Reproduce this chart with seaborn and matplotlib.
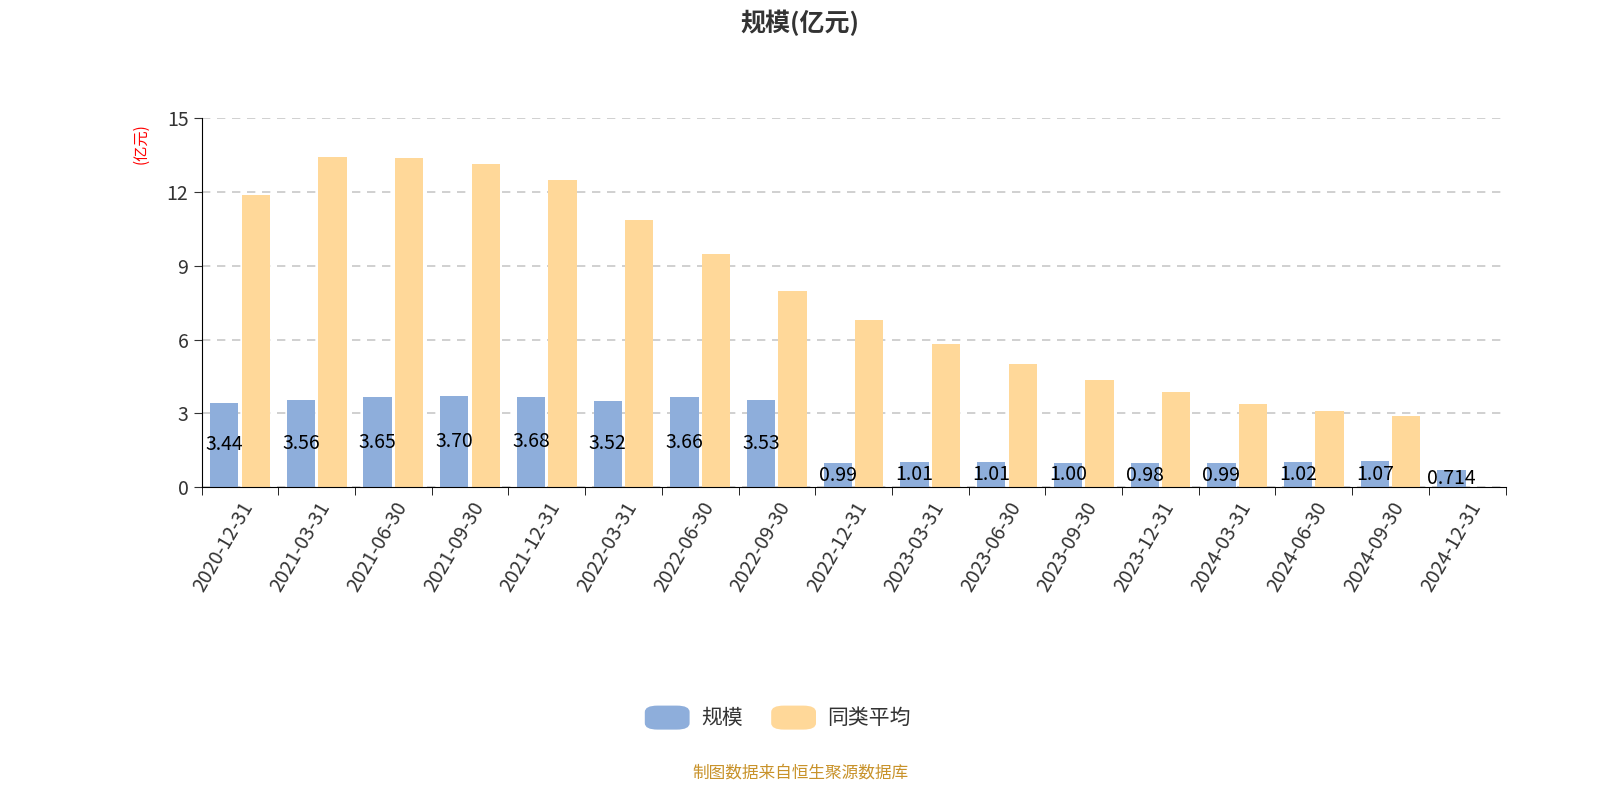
import matplotlib
matplotlib.use("Agg")
import matplotlib.pyplot as plt
from matplotlib import font_manager
import seaborn as sns
import pandas as pd
import numpy as np
from matplotlib.patches import FancyBboxPatch

cjk = None
for f in font_manager.findSystemFonts():
    if "CJK" in f and ("SC" in f or "Sans" in f):
        try:
            font_manager.fontManager.addfont(f)
            name = font_manager.FontProperties(fname=f).get_name()
            if cjk is None or "SC" in name:
                cjk = name
        except Exception:
            pass
plt.rcParams["font.family"] = ["Noto Sans CJK SC"] + ([cjk] if cjk else []) + ["DejaVu Sans"]

dates = ["2020-12-31","2021-03-31","2021-06-30","2021-09-30","2021-12-31","2022-03-31",
         "2022-06-30","2022-09-30","2022-12-31","2023-03-31","2023-06-30","2023-09-30",
         "2023-12-31","2024-03-31","2024-06-30","2024-09-30","2024-12-31"]
scale = [3.44,3.56,3.65,3.70,3.68,3.52,3.66,3.53,0.99,1.01,1.01,1.00,0.98,0.99,1.02,1.07,0.714]
scale_labels = ["3.44","3.56","3.65","3.70","3.68","3.52","3.66","3.53","0.99","1.01","1.01",
                "1.00","0.98","0.99","1.02","1.07","0.714"]
peer_avg = [11.87,13.41,13.37,13.13,12.48,10.85,9.47,7.97,6.79,5.81,5.00,4.35,3.86,3.37,3.09,2.89,np.nan]

df = pd.DataFrame({"date": dates * 2,
                   "value": scale + peer_avg,
                   "series": ["规模"] * len(dates) + ["同类平均"] * len(dates)})

fig = plt.figure(figsize=(16, 8), dpi=100)
ax = fig.add_axes([0.126, 0.391, 0.815, 0.4615])
colors = {"规模": "#8eaedb", "同类平均": "#ffd899"}
sns.barplot(data=df, x="date", y="value", hue="series", palette=colors, ax=ax,
            width=0.82, gap=0.1, legend=False, saturation=1)

ax.set_ylim(0, 15)
ax.set_xlim(-0.5, len(dates) - 0.5)
ax.set_yticks([0, 3, 6, 9, 12, 15])
ax.tick_params(axis="y", labelsize=14, colors="#333333", length=6)
ax.yaxis.grid(True, linestyle=(0, (5, 4)), color="#c8c8c8", linewidth=1.2)
ax.set_axisbelow(True)
for s in ["top", "right"]:
    ax.spines[s].set_visible(False)
ax.set_xlabel("")
ax.set_ylabel("")
ax.set_xticks(range(len(dates)))
ax.set_xticklabels(dates, rotation=60, ha="right", rotation_mode="anchor", fontsize=14, color="#333333")
ax.tick_params(axis="x", length=0, pad=8)
ax.set_xticks(np.arange(-0.5, len(dates)), minor=True)
ax.tick_params(axis="x", which="minor", length=6)

blue_bars = ax.containers[0]
for bar, lab in zip(blue_bars, scale_labels):
    ax.text(bar.get_x() + bar.get_width() / 2, bar.get_height() / 2, lab,
            ha="center", va="center", fontsize=14, color="black")

fig.text(0.5, 0.972, "规模(亿元)", ha="center", va="center", fontsize=18, fontweight="bold", color="#333333")
fig.text(0.088, 0.82, "(亿元)", ha="center", va="center", rotation=90, fontsize=11, color="red")
fig.text(0.5, 0.034, "制图数据来自恒生聚源数据库", ha="center", va="center", fontsize=12, color="#c8922a")

for x0, name in [(0.403, "规模"), (0.482, "同类平均")]:
    fig.patches.append(FancyBboxPatch((x0, 0.088), 0.028, 0.03, boxstyle="round,pad=0,rounding_size=0.008",
                                      transform=fig.transFigure, facecolor=colors[name], edgecolor="none"))
    fig.text(x0 + 0.035, 0.103, name, ha="left", va="center", fontsize=15, color="#333333")

fig.savefig("out.png", dpi=100)
